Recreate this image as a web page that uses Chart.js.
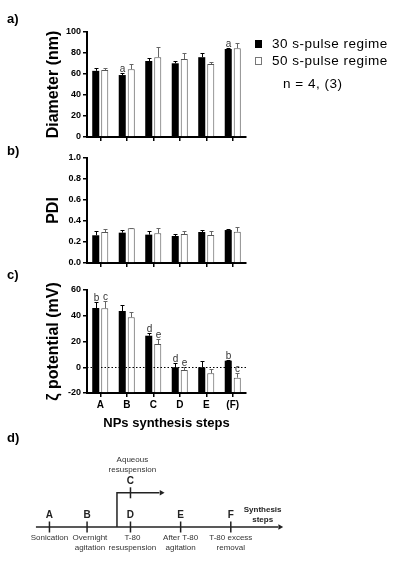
<!DOCTYPE html>
<html>
<head>
<meta charset="utf-8">
<script src="https://cdn.jsdelivr.net/npm/chart.js@4.4.0/dist/chart.umd.min.js"></script>
<style>
  html, body { margin: 0; padding: 0; background: #fff; }
  #wrap { position: relative; width: 396px; height: 570px; overflow: hidden;
          font-family: Arial, "Liberation Sans", sans-serif; color: #000; }
  canvas { position: absolute; left: 0; }
  .panel { position: absolute; left: 7px; font-size: 13px; font-weight: bold; line-height: 13px; }
  .key { position: absolute; width: 7px; height: 8px; box-sizing: border-box; }
  .txt { position: absolute; font-size: 13.5px; line-height: 14px; letter-spacing: 0.5px; white-space: nowrap; }
</style>
</head>
<body>
<div id="wrap">
  <canvas id="diam" width="396" height="150" style="top:0px"></canvas>
  <canvas id="pdi" width="396" height="135" style="top:140px"></canvas>
  <canvas id="zeta" width="396" height="170" style="top:270px"></canvas>
  <canvas id="steps" width="396" height="140" style="top:430px"></canvas>

  <div class="panel" style="top:12px">a)</div>
  <div class="panel" style="top:144px">b)</div>
  <div class="panel" style="top:268px">c)</div>
  <div class="panel" style="top:431px">d)</div>

  <div class="key" style="left:255px; top:40px; background:#000"></div>
  <div class="txt" style="left:272px; top:37px">30 s-pulse regime</div>
  <div class="key" style="left:255px; top:57px; border:1px solid #777; background:#fff"></div>
  <div class="txt" style="left:272px; top:54px">50 s-pulse regime</div>
  <div class="txt" style="left:283px; top:77px">n = 4, (3)</div>
</div>
<script>
// synthesis steps on the x axis
const steps = ["A", "B", "C", "D", "E", "(F)"];

// a) diameter (nm), mean and upper error
const diam30 = [63, 59, 72.4, 70.2, 76, 83.8];
const diam30Err = [2.9, 2, 2.6, 1.8, 3.7, 1];
const diam50 = [63.8, 64.5, 76, 74.3, 69.5, 84.5];
const diam50Err = [2.2, 5, 9.4, 5.4, 1.5, 5.3];
const diam30Letters = ["", "a", "", "", "", "a"];
const diam50Letters = ["", "", "", "", "", ""];

// b) PDI
const pdi30 = [0.264, 0.289, 0.27, 0.257, 0.295, 0.314];
const pdi30Err = [0.04, 0.025, 0.035, 0.02, 0.02, 0.006];
const pdi50 = [0.295, 0.33, 0.283, 0.276, 0.267, 0.298];
const pdi50Err = [0.025, 0.006, 0.047, 0.032, 0.04, 0.048];

// c) zeta potential (mV)
const zeta30 = [46, 43.7, 24.5, 0, 0, 5.1];
const zeta30Err = [4.4, 4.9, 1.8, 3, 4.8, 0.6];
const zeta50 = [45.8, 38.8, 18, -2.2, -4.7, -8.1];
const zeta50Err = [5.9, 4.1, 3.7, 2.6, 3.3, 3.4];
const zeta30Letters = ["b", "", "d", "d", "", "b"];
const zeta50Letters = ["c", "", "e", "e", "", "c"];

// d) timeline of the synthesis
const timelineSteps = ["A", "B", "D", "E", "F"];
const timelineNotes = [["Sonication"], ["Overnight", "agitation"], ["T-80", "resuspension"],
                       ["After T-80", "agitation"], ["T-80 excess", "removal"]];
const branchStep = "C";
const branchNote = ["Aqueous", "resuspension"];

Chart.defaults.font.family = 'Arial, "Liberation Sans", sans-serif';
Chart.defaults.color = "#000";

const errorBars = {
  id: "errorBars",
  afterDatasetsDraw(chart) {
    const ctx = chart.ctx;
    const y = chart.scales.y;
    chart.data.datasets.forEach((ds, i) => {
      chart.getDatasetMeta(i).data.forEach((bar, j) => {
        const x = Math.round(bar.x) + 0.5;
        const top = y.getPixelForValue(ds.data[j]);
        const cap = Math.round(y.getPixelForValue(ds.data[j] + ds.errors[j])) + 0.5;
        ctx.save();
        ctx.strokeStyle = ds.errorColor;
        ctx.lineWidth = 1;
        ctx.beginPath();
        ctx.moveTo(x, top);
        ctx.lineTo(x, cap);
        ctx.moveTo(x - 2, cap);
        ctx.lineTo(x + 2, cap);
        ctx.stroke();
        if (ds.letters && ds.letters[j]) {
          ctx.fillStyle = "#333";
          ctx.font = '10px Arial, "Liberation Sans", sans-serif';
          ctx.textAlign = "center";
          ctx.textBaseline = "alphabetic";
          ctx.fillText(ds.letters[j], x, cap - 2);
        }
        ctx.restore();
      });
    });
  },
};

const zeroLine = {
  id: "zeroLine",
  afterDatasetsDraw(chart) {
    const { ctx, chartArea } = chart;
    const y0 = Math.round(chart.scales.y.getPixelForValue(0)) + 0.5;
    ctx.save();
    ctx.strokeStyle = "#000";
    ctx.lineWidth = 1;
    ctx.setLineDash([1.5, 2]);
    ctx.beginPath();
    ctx.moveTo(chartArea.left, y0);
    ctx.lineTo(chartArea.right, y0);
    ctx.stroke();
    ctx.restore();
  },
};

function barChart(id, o) {
  return new Chart(document.getElementById(id), {
    type: "bar",
    data: {
      labels: steps,
      datasets: [
        { label: "30 s-pulse regime", data: o.a, errors: o.aErr, letters: o.aLet, base: o.min,
          backgroundColor: "#000", borderWidth: 0, errorColor: "#000" },
        { label: "50 s-pulse regime", data: o.b, errors: o.bErr, letters: o.bLet, base: o.min,
          backgroundColor: "#fff", borderColor: "#555", borderWidth: 1, errorColor: "#666" },
      ],
    },
    options: {
      responsive: false,
      animation: false,
      events: [],
      layout: { padding: { left: 0, right: 150, top: o.top, bottom: o.bottom } },
      datasets: { bar: { categoryPercentage: 0.68, barPercentage: 0.78 } },
      plugins: { legend: { display: false }, tooltip: { enabled: false } },
      scales: {
        x: {
          grid: { offset: false, drawOnChartArea: false, tickLength: 4, color: "#000", lineWidth: 1.5 },
          border: { color: "#000", width: 2 },
          ticks: { display: o.showX, font: { size: 10, weight: "bold" }, padding: 2 },
          title: { display: !!o.xTitle, text: o.xTitle, font: { size: 13, weight: "bold" },
                   padding: { top: 0, bottom: 7 } },
          afterFit(s) { s.height = o.xH; },
        },
        y: {
          min: o.min,
          max: o.max,
          ticks: { stepSize: o.step, font: { size: 9, weight: "bold" }, padding: 2, callback: o.fmt },
          grid: { drawOnChartArea: false, tickLength: 4, color: "#000", lineWidth: 1.5 },
          border: { color: "#000", width: 2 },
          title: { display: true, text: o.yTitle, font: { size: 16, weight: "bold" },
                   padding: { top: 44, bottom: 0 } },
          afterFit(s) { s.width = 87; },
        },
      },
    },
    plugins: [errorBars].concat(o.extra || []),
  });
}

barChart("diam", {
  a: diam30, aErr: diam30Err, aLet: diam30Letters,
  b: diam50, bErr: diam50Err, bLet: diam50Letters,
  min: 0, max: 100, step: 20, yTitle: "Diameter (nm)",
  top: 32, bottom: 7, xH: 6, showX: false,
});

barChart("pdi", {
  a: pdi30, aErr: pdi30Err, b: pdi50, bErr: pdi50Err,
  min: 0, max: 1, step: 0.2, fmt: (v) => v.toFixed(1), yTitle: "PDI",
  top: 18, bottom: 6, xH: 6, showX: false,
});

barChart("zeta", {
  a: zeta30, aErr: zeta30Err, aLet: zeta30Letters,
  b: zeta50, bErr: zeta50Err, bLet: zeta50Letters,
  min: -20, max: 60, step: 20, yTitle: "ζ potential (mV)",
  top: 20, bottom: 2, xH: 45, showX: true, xTitle: "NPs synthesis steps",
  extra: [zeroLine],
});

// d) timeline drawn as a scatter chart, one unit = one pixel
const stepX = [44, 83, 128, 180, 232];
const noteX = [44, 86, 130, 180, 232];
const branchX = 114, branchY = 38, branchTickX = 128;

const timelineText = {
  id: "timelineText",
  afterDatasetsDraw(chart) {
    const { ctx, scales } = chart;
    const px = (v) => scales.x.getPixelForValue(v);
    const py = (v) => scales.y.getPixelForValue(v);
    ctx.save();
    ctx.textAlign = "center";
    ctx.textBaseline = "middle";
    ctx.fillStyle = "#222";
    ctx.font = 'bold 10px Arial, "Liberation Sans", sans-serif';
    timelineSteps.forEach((s, i) => ctx.fillText(s, px(stepX[i]), py(13)));
    ctx.fillText(branchStep, px(branchTickX), py(51));
    ctx.font = 'bold 8px Arial, "Liberation Sans", sans-serif';
    ctx.fillText("Synthesis", px(265), py(19));
    ctx.fillText("steps", px(265), py(8));
    ctx.fillStyle = "#333";
    ctx.font = '8px Arial, "Liberation Sans", sans-serif';
    timelineNotes.forEach((lines, i) => {
      lines.forEach((t, k) => ctx.fillText(t, px(noteX[i]), py(-12 - 11 * k)));
    });
    branchNote.forEach((t, k) => ctx.fillText(t, px(130), py(75 - 11 * k)));
    ctx.restore();
  },
};

new Chart(document.getElementById("steps"), {
  type: "scatter",
  data: {
    datasets: [
      { data: [{ x: 30, y: 0 }, { x: 281, y: 0 }], showLine: true, borderColor: "#222",
        borderWidth: 1.5, pointRadius: 0 },
      { data: [{ x: branchX, y: 0 }, { x: branchX, y: branchY }, { x: 158, y: branchY }],
        showLine: true, borderColor: "#222", borderWidth: 1.5, pointRadius: 0 },
      { data: stepX.map((x) => ({ x, y: 0 })).concat([{ x: branchTickX, y: branchY }]),
        pointStyle: "line", rotation: 90, pointRadius: 5.5, borderColor: "#222",
        borderWidth: 1.5, backgroundColor: "#222" },
      { data: [{ x: 283, y: 0 }, { x: 160, y: branchY }], pointStyle: "triangle", rotation: 90,
        pointRadius: 3.2, borderColor: "#222", backgroundColor: "#222", borderWidth: 0 },
    ],
  },
  options: {
    responsive: false,
    animation: false,
    events: [],
    layout: { padding: 0 },
    plugins: { legend: { display: false }, tooltip: { enabled: false } },
    scales: {
      x: { type: "linear", min: 0, max: 396, display: false },
      y: { type: "linear", min: -40, max: 100, display: false },
    },
  },
  plugins: [timelineText],
});
</script>
</body>
</html>
